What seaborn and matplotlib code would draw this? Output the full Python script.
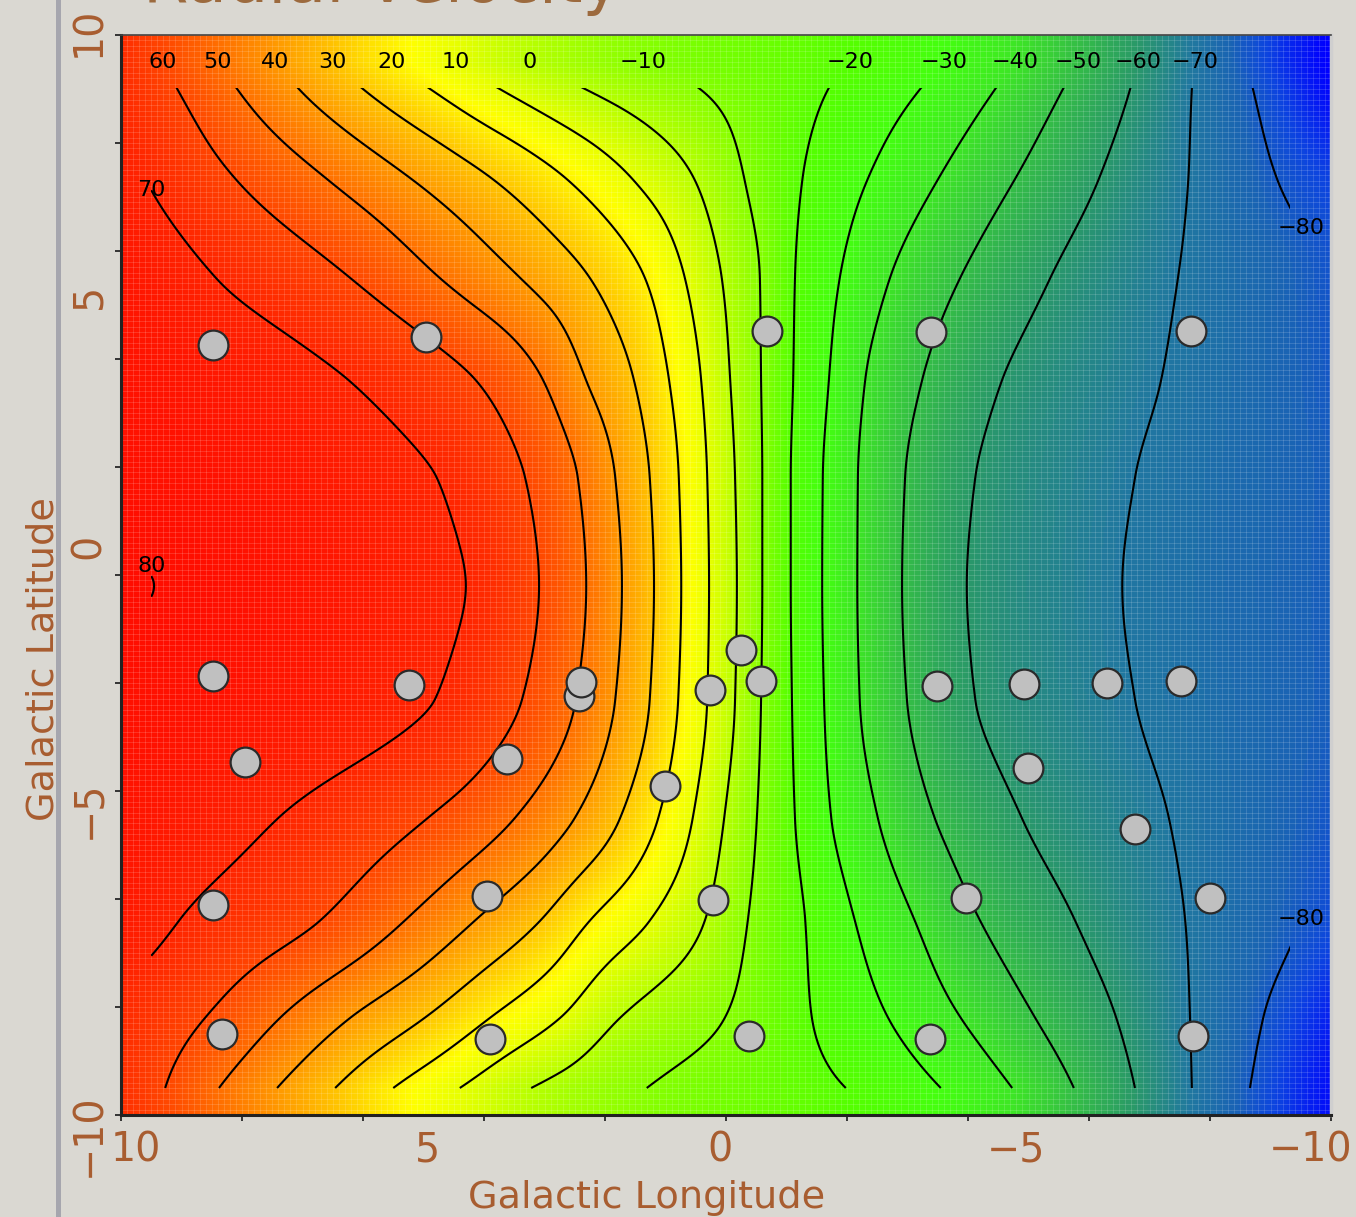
import numpy as np
import pandas as pd
import matplotlib
matplotlib.use("Agg")
import matplotlib.pyplot as plt
import seaborn as sns
from matplotlib.colors import LinearSegmentedColormap, Normalize
from matplotlib.transforms import ScaledTranslation
from matplotlib.patches import Rectangle

# ------------------------------------------------------------------ data
# contour levels (km/s)
levels = [70, 60, 50, 40, 30, 20, 10, 0, -10, -20, -30, -40, -50, -60, -70, -80]
# galactic latitude of each row where the contour crossings were read
lat_rows = [9.5, 9.0, 7.3, 5.5, 3.6, 1.8, -0.2, -2.3, -4.5, -6.4, -8.2, -9.5]
nan = np.nan
# galactic longitude at which each level crosses each latitude row
cross_rows = [
    [nan, 9.31, 8.40, 7.45, 6.50, 5.52, 4.46, 3.24, 1.37, -2.05, -3.60, -4.78, -5.82, -6.81, -7.75, -8.58],
    [nan, 9.07, 8.08, 7.06, 6.00, 4.89, 3.74, 2.33, 0.43, -1.69, -3.21, -4.45, -5.57, -6.68, -7.70, -8.71],
    [nan, 8.08, 6.56, 5.16, 3.82, 2.60, 1.52, 0.51, -0.31, -1.26, -2.33, -3.49, -4.76, -6.15, -7.64, -9.12],
    [8.43, 6.21, 4.73, 3.40, 2.25, 1.34, 0.68, 0.07, -0.56, -1.14, -1.88, -2.71, -3.87, -5.36, -7.47, nan],
    [6.23, 4.13, 3.02, 2.31, 1.52, 0.94, 0.41, -0.07, -0.58, -1.11, -1.70, -2.30, -3.24, -4.56, -7.19, nan],
    [4.78, 3.32, 2.45, 1.83, 1.26, 0.78, 0.31, -0.15, -0.60, -1.07, -1.60, -2.18, -2.96, -4.12, -6.76, nan],
    [4.30, 3.09, 2.31, 1.72, 1.19, 0.74, 0.28, -0.18, -0.60, -1.07, -1.59, -2.17, -2.91, -3.98, -6.55, nan],
    [4.81, 3.37, 2.48, 1.83, 1.26, 0.79, 0.31, -0.15, -0.58, -1.09, -1.62, -2.21, -2.99, -4.12, -6.76, nan],
    [7.40, 4.93, 3.49, 2.50, 1.75, 1.12, 0.55, 0.03, -0.51, -1.14, -1.74, -2.51, -3.45, -4.89, -7.32, nan],
    [9.04, 6.71, 5.31, 4.15, 3.07, 2.25, 1.26, 0.35, -0.36, -1.31, -2.13, -3.12, -4.20, -5.77, -7.59, nan],
    [nan, 8.61, 7.37, 6.21, 4.98, 3.90, 2.74, 1.75, 0.02, -1.42, -2.68, -3.88, -5.11, -6.45, -7.67, -8.88],
    [nan, 9.27, 8.38, 7.42, 6.46, 5.50, 4.40, 3.22, 1.31, -1.98, -3.55, -4.73, -5.75, -6.76, -7.70, -8.66],
]
# velocity at the plot edges l = +10 and l = -10 for each row
edge_lp10 = [67.6, 68.0, 72.8, 77.0, 78.0, 79.0, 80.1, 79.0, 77.5, 75.0, 68.0, 67.0]
edge_lm10 = [-92.0, -91.0, -84.0, -80.8, -80.0, -79.0, -79.0, -79.0, -80.5, -82.6, -88.0, -90.0]

# observed fields (galactic longitude, latitude)
field_lon = [8.48, 4.96, -0.68, -3.39, -7.69, -0.25, 8.48, 5.24, 2.43, 2.40, 0.26, -0.58,
             -3.49, -4.93, -6.30, -7.52, 7.95, 3.62, 1.01, -4.99, -6.76, 8.48, 3.95, 0.21,
             -3.97, -8.00, 8.33, 3.90, -0.38, -3.37, -7.72]
field_lat = [4.26, 4.41, 4.52, 4.50, 4.52, -1.39, -1.87, -2.04, -2.24, -1.98, -2.13, -1.96,
             -2.06, -2.02, -2.00, -1.96, -3.46, -3.41, -3.91, -3.57, -4.70, -6.11, -5.94, -6.02,
             -5.98, -5.98, -8.50, -8.59, -8.54, -8.59, -8.54]

x_ticklabels = ["10", "5", "0", "\u22125", "\u221210"]
x_tickvals = [10, 5, 0, -5, -10]
y_ticklabels = ["10", "5", "0", "\u22125", "\u221210"]
y_tickvals = [10, 5, 0, -5, -10]

# colour scale stops
cmap_vals = [-92, -84, -78, -70, -60, -50, -40, -30, -20, -10, 0, 10, 17, 30, 40, 50, 60, 70, 82]
cmap_cols = ['#0000FF', '#0D45E0', '#1A64B4', '#2178A0', '#2A9A68', '#35BF45', '#3EE725',
             '#44FF10', '#55FF00', '#88FF00', '#B8FF00', '#E8FF00', '#FFFF00', '#FFC400',
             '#FF9A00', '#FF7000', '#FF4800', '#FF2600', '#FF0A00']

# ------------------------------------------------------------------ smooth field from the crossings
def pchip_eval(x, Y, xq):
    x = np.asarray(x, float)
    n = len(x)
    h = np.diff(x)
    delta = np.diff(Y, axis=0) / h[:, None]
    d = np.zeros_like(Y)
    for k in range(1, n - 1):
        w1 = 2 * h[k] + h[k - 1]
        w2 = h[k] + 2 * h[k - 1]
        a, b = delta[k - 1], delta[k]
        same = a * b > 0
        with np.errstate(divide="ignore", invalid="ignore"):
            hm = (w1 + w2) / (w1 / a + w2 / b)
        d[k] = np.where(same, hm, 0.0)

    def end_slope(h0, h1, m0, m1):
        s = ((2 * h0 + h1) * m0 - h0 * m1) / (h0 + h1)
        s = np.where(np.sign(s) != np.sign(m0), 0.0, s)
        s = np.where((np.sign(m0) != np.sign(m1)) & (np.abs(s) > 3 * np.abs(m0)), 3 * m0, s)
        return s

    d[0] = end_slope(h[0], h[1], delta[0], delta[1])
    d[-1] = end_slope(h[-1], h[-2], delta[-1], delta[-2])
    xq = np.clip(xq, x[0], x[-1])
    k = np.clip(np.searchsorted(x, xq) - 1, 0, n - 2)
    t = ((xq - x[k]) / h[k])[:, None]
    hk = h[k][:, None]
    h00 = 2 * t**3 - 3 * t**2 + 1
    h10 = t**3 - 2 * t**2 + t
    h01 = -2 * t**3 + 3 * t**2
    h11 = t**3 - t**2
    return h00 * Y[k] + h10 * hk * d[k] + h01 * Y[k + 1] + h11 * hk * d[k + 1]


def row_profile(k, lq):
    cr = np.array(cross_rows[k], float)
    lv = np.array(levels, float)
    m = ~np.isnan(cr)
    ls = np.concatenate([[10.0], cr[m], [-10.0]])
    vs = np.concatenate([[edge_lp10[k]], lv[m], [edge_lm10[k]]])
    o = np.argsort(ls)
    return pchip_eval(ls[o], vs[o][:, None], lq)[:, 0]


lat_arr = np.array(lat_rows)
ob = np.argsort(lat_arr)


def velocity(lq, bq):
    R = np.array([row_profile(k, lq) for k in range(len(lat_rows))])
    return pchip_eval(lat_arr[ob], R[ob], bq)

# ------------------------------------------------------------------ figure
W, H = 1356, 1217
fig = plt.figure(figsize=(W / 100, H / 100), dpi=100)
fig.patch.set_facecolor("#DAD8D2")
ax = fig.add_axes([121 / W, 1 - 1115 / H, 1210 / W, 1080 / H])

cmap = LinearSegmentedColormap.from_list(
    "rv", [((v - cmap_vals[0]) / (cmap_vals[-1] - cmap_vals[0]), c) for v, c in zip(cmap_vals, cmap_cols)])
norm = Normalize(vmin=cmap_vals[0], vmax=cmap_vals[-1])

li = np.linspace(-10, 10, 500)
bi = np.linspace(-10, 10, 500)
Zi = velocity(li, bi)
ax.imshow(Zi, extent=[-10, 10, -10, 10], origin="lower", cmap=cmap, norm=norm,
          aspect="auto", interpolation="bilinear", zorder=0)

# faint mesh texture of the original rendering
mesh = np.arange(-10, 10.001, 0.1)
ax.vlines(mesh, -10, 10, colors="white", alpha=0.17, linewidth=0.6, zorder=1)
ax.hlines(mesh, -10, 10, colors="white", alpha=0.17, linewidth=0.6, zorder=1)

# contours
lc = np.linspace(-9.5, 9.5, 800)
bc = np.linspace(-9.5, 9.5, 800)
Zc = velocity(lc, bc)
all_levels = sorted(levels + [80])
cs = ax.contour(lc, bc, Zc, levels=all_levels, colors="black", linewidths=1.5,
                negative_linestyles="solid", zorder=2)
clip = Rectangle((-9.32, -9.6), 9.5 + 9.32, 9.02 + 9.6, transform=ax.transData)
cs.set_clip_path(clip)


def fmt(v):
    v = int(round(v))
    return ("\u2212%d" % -v) if v < 0 else "%d" % v


lab_kw = dict(fontsize=16, color="black", ha="center", va="center", zorder=4)
for lev, path in zip(cs.levels, cs.get_paths()):
    polys = path.to_polygons(closed_only=False)
    for poly in polys:
        if len(poly) < 2:
            continue
        ends = [poly[0], poly[-1]]
        if lev == 80:
            btop = max(ends[0][1], ends[1][1])
            ax.text(9.49, btop, fmt(lev),
                    transform=ax.transData + ScaledTranslation(0, 0.1, fig.dpi_scale_trans), **lab_kw)
            continue
        for (l0, b0) in ends:
            if lev == -80:
                if abs(l0 + 9.5) < 0.03:
                    ax.text(l0, b0, fmt(lev), **lab_kw)
            elif lev == 70:
                if abs(l0 - 9.5) < 0.03 and b0 > 0:
                    ax.text(l0, b0, fmt(lev), **lab_kw)
            else:
                if abs(b0 - 9.5) < 0.03:
                    ax.text(l0, b0, fmt(lev), **lab_kw)

# observed fields
df = pd.DataFrame({"lon": field_lon, "lat": field_lat})
sns.scatterplot(data=df, x="lon", y="lat", ax=ax, s=460, color="#C0C0C0",
                edgecolor="#2A2A2A", linewidth=1.6, zorder=6, legend=False)

ax.set_xlim(10, -10)
ax.set_ylim(-10, 10)
ax.set_xlabel("")
ax.set_ylabel("")

ax.set_xticks(np.arange(-10, 10.1, 2))
ax.set_yticks(np.arange(-10, 10.1, 2))
ax.tick_params(axis="both", which="major", direction="out", length=4.5, width=1.4,
               color="#333333", labelbottom=False, labelleft=False)
for s in ["left", "bottom"]:
    ax.spines[s].set_color("#222222")
    ax.spines[s].set_linewidth(2.2)
ax.spines["top"].set_color("#444444")
ax.spines["top"].set_linewidth(1.2)
ax.spines["right"].set_color("#CFCFCF")
ax.spines["right"].set_linewidth(2.5)

tick_color = "#A85D30"
x_dx = [15, 4, -6, -12, -20]
for v, lab, dx in zip(x_tickvals, x_ticklabels, x_dx):
    ax.text(v, 0, lab, transform=ax.get_xaxis_transform() + ScaledTranslation(dx / 100, -0.47, fig.dpi_scale_trans),
            ha="center", va="baseline", fontsize=28.5, color=tick_color, clip_on=False)
y_dy = [3, 9, 29, 35, -20]
for v, lab, dy in zip(y_tickvals, y_ticklabels, y_dy):
    ax.text(0, v, lab, transform=ax.get_yaxis_transform() + ScaledTranslation(-0.21, dy / 100, fig.dpi_scale_trans),
            ha="center", va="baseline", rotation=90, rotation_mode="anchor",
            fontsize=28.5, color=tick_color, clip_on=False)

fig.text(647 / W, (H - 1208) / H, "Galactic Longitude", ha="center", va="baseline",
         fontsize=27.5, color=tick_color)
fig.text(53 / W, (H - 659) / H, "Galactic Latitude", ha="center", va="baseline",
         rotation=90, rotation_mode="anchor", fontsize=27.5, color=tick_color)
fig.text(143 / W, (H - 2) / H, "Radial Velocity", ha="left", va="baseline",
         fontsize=47, color="#9C6A3E")

fig.add_artist(Rectangle((56 / W, 0), 5 / W, 1, transform=fig.transFigure,
                         facecolor="#A6A6AE", edgecolor="none"))

fig.savefig("out.png", dpi=100, facecolor=fig.get_facecolor())
